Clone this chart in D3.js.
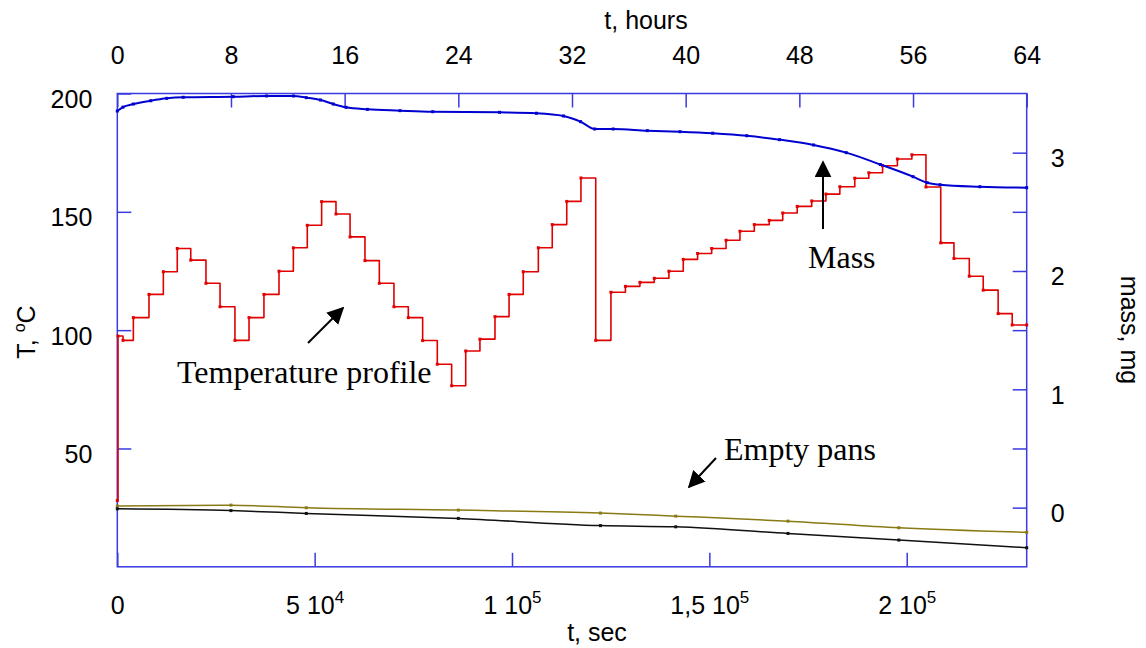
<!DOCTYPE html>
<html>
<head>
<meta charset="utf-8">
<script src="https://cdn.jsdelivr.net/npm/d3@7"></script>
<style>
	body { margin: 0; background: #fff; }
	svg { display: block; }
</style>
</head>
<body>
<script>
/* Data (time in hours, T in degC, mass in mg)
***********************************************************************/
var tempTimes = [0, 0.05, 0.4, 1.13, 2.23, 3.24, 4.22, 5.17, 6.24, 7.23, 8.28, 9.27, 10.32, 11.38, 12.39,
	13.37, 14.38, 15.39, 16.38, 17.43, 18.44, 19.47, 20.48, 21.49, 22.52, 23.53, 24.52, 25.52, 26.58,
	27.57, 28.57, 29.63, 30.61, 31.63, 32.63, 33.67, 34.74, 35.76, 36.78, 37.79, 38.82, 39.83, 40.84,
	41.83, 42.84, 43.82, 44.83, 45.88, 46.83, 47.85, 48.87, 49.87, 50.85, 51.9, 52.89, 53.86, 54.9,
	55.92, 56.91, 57.95, 58.88, 59.96, 60.94, 61.99, 62.98, 64];
var tempValues = [28, 97.5, 95.7, 105.3, 115.1, 124.7, 134.5, 129.6, 119.8, 109.9, 95.7, 105.3, 115.1, 124.9, 134.8,
	144.3, 154.3, 149.1, 139.4, 129.4, 119.8, 109.9, 105.3, 95.6, 85.6, 76.5, 91.2, 96.2, 105.7,
	115.1, 124.7, 134.8, 144.6, 154.4, 164.3, 95.7, 116, 118.5, 120.2, 121.9, 124.9, 129.9, 132.4,
	134.5, 138, 141.8, 144.6, 146.4, 149.5, 152.3, 154.6, 157.5, 160.6, 164.2, 166.5, 169.5, 172.3,
	174.1, 160.5, 136.9, 130.3, 122.8, 116.9, 107, 102.2, 102.2];

var massTimes = [0, 0.4, 1.13, 2.35, 3.48, 4.64, 8.16, 10.5, 12.4, 13.3, 14.3, 15.2, 16.1, 17.6, 19.9, 22.2,
	26.9, 29.5, 31.4, 32.6, 33.6, 34.9, 37.3, 39.6, 41.9, 44.3, 46.6, 49.0, 51.3, 53.7, 56.0, 57.0,
	57.9, 60.7, 64];
var massValues = [3.352, 3.385, 3.411, 3.439, 3.459, 3.468, 3.473, 3.479, 3.479, 3.465, 3.445, 3.411, 3.383,
	3.366, 3.355, 3.346, 3.341, 3.333, 3.31, 3.262, 3.2, 3.2, 3.186, 3.177, 3.164, 3.143, 3.11,
	3.065, 3.0, 2.9, 2.797, 2.746, 2.729, 2.712, 2.704];

var panTimes = [0, 8, 13.3, 24, 34, 39.3, 47.2, 55, 64];
var panOlive = [0.013, 0.021, -0.001, -0.021, -0.046, -0.072, -0.114, -0.170, -0.209];
var panBlack = [-0.010, -0.025, -0.049, -0.091, -0.152, -0.162, -0.218, -0.274, -0.339];

var hourTicks = [0, 8, 16, 24, 32, 40, 48, 56, 64];
var secTicks = [0, 5e4, 1e5, 1.5e5, 2e5];
var tempTicks = [50, 100, 150, 200];
var massTicks = [0, 0.5, 1, 1.5, 2, 2.5, 3];


/* Setup SVG
***********************************************************************/
var svgW = 1146;
var svgH = 648;
var plotL = 117.3, plotR = 1026.7, plotT = 93.5, plotB = 566.8;

var svg = d3.select("body").append("svg")
	.attr("width", svgW)
	.attr("height", svgH)
	.style("font-family", "Arial, 'Liberation Sans', sans-serif");

svg.append("rect").attr("width", svgW).attr("height", svgH).attr("fill", "#fff");

var xHours = d3.scaleLinear().domain([0, 64]).range([plotL, plotR]);
var xSec = d3.scaleLinear().domain([0, 64 * 3600]).range([plotL, plotR]);
var yTemp = d3.scaleLinear().domain([0, 200]).range([plotB, plotT]);
var yMass = d3.scaleLinear().domain([-0.5, 3.5]).range([plotB, plotT]);

var axisCol = "#3a3ae0";
var fontsize = 25;


/* Axes
***********************************************************************/
function styleAxis(g) {
	g.select(".domain").remove();
	g.selectAll(".tick line").attr("stroke", axisCol).attr("stroke-width", 1.5);
	g.selectAll(".tick text").attr("fill", "#000").attr("font-size", fontsize);
}

var topAxis = svg.append("g")
	.attr("transform", "translate(0," + plotT + ")")
	.call(d3.axisTop(xHours).tickValues(hourTicks).tickSizeInner(-14).tickPadding(30).tickFormat(d3.format("d")))
	.call(styleAxis);

var bottomAxis = svg.append("g")
	.attr("transform", "translate(0," + plotB + ")")
	.call(d3.axisBottom(xSec).tickValues(secTicks).tickSizeInner(-14).tickPadding(29))
	.call(styleAxis);

// rewrite bottom labels as "m 10^e"
bottomAxis.selectAll(".tick text").each(function(d) {
	var t = d3.select(this).text("");
	if (d == 0) { t.text("0"); return; }
	var e = Math.floor(Math.log10(d));
	var m = String(d / Math.pow(10, e)).replace(".", ",");
	t.append("tspan").text(m + " 10");
	t.append("tspan").attr("font-size", 17).attr("dy", -11).text(e);
});

var leftAxis = svg.append("g")
	.attr("transform", "translate(" + plotL + ",0)")
	.call(d3.axisLeft(yTemp).tickValues(tempTicks).tickSizeInner(-14).tickPadding(25).tickFormat(d3.format("d")))
	.call(styleAxis);
leftAxis.selectAll(".tick text").attr("dy", "0.56em");

var rightAxis = svg.append("g")
	.attr("transform", "translate(" + plotR + ",0)")
	.call(d3.axisRight(yMass).tickValues(massTicks).tickSizeInner(-14).tickPadding(24)
		.tickFormat(function(d) { return d % 1 == 0 ? d : ""; }))
	.call(styleAxis);
rightAxis.selectAll(".tick text").attr("dy", "0.56em");

// frame
svg.append("rect")
	.attr("x", plotL).attr("y", plotT)
	.attr("width", plotR - plotL).attr("height", plotB - plotT)
	.attr("fill", "none")
	.attr("stroke", axisCol)
	.attr("stroke-width", 1.5);

// axis titles
svg.append("text").attr("x", 646).attr("y", 29).attr("text-anchor", "middle")
	.attr("font-size", fontsize).text("t, hours");
svg.append("text").attr("x", 597).attr("y", 641).attr("text-anchor", "middle")
	.attr("font-size", fontsize).text("t, sec");

var tLabel = svg.append("text")
	.attr("transform", "translate(35,332) rotate(-90)")
	.attr("text-anchor", "middle")
	.attr("font-size", fontsize);
tLabel.append("tspan").text("T, ");
tLabel.append("tspan").attr("font-size", 16).attr("dy", -10).text("o");
tLabel.append("tspan").attr("dy", 10).text("C");

svg.append("text")
	.attr("transform", "translate(1121,330) rotate(90)")
	.attr("text-anchor", "middle")
	.attr("font-size", fontsize)
	.text("mass, mg");


/* Lines
***********************************************************************/
function zipData(xs, ys) {
	return xs.map(function(x, i) { return {x: x, y: ys[i]}; });
}

function drawSeries(data, yScale, color, width, curve) {
	var line = d3.line()
		.x(function(d) { return xHours(d.x); })
		.y(function(d) { return yScale(d.y); })
		.curve(curve);
	svg.append("path")
		.attr("d", line(data))
		.attr("fill", "none")
		.attr("stroke", color)
		.attr("stroke-width", width)
		.attr("stroke-linejoin", "round");
	svg.append("g").selectAll("rect")
		.data(data)
		.enter().append("rect")
		.attr("x", function(d) { return xHours(d.x) - 1.5; })
		.attr("y", function(d) { return yScale(d.y) - 1.5; })
		.attr("width", 3)
		.attr("height", 3)
		.attr("fill", color);
}

drawSeries(zipData(panTimes, panOlive), yMass, "#8a7a14", 1.5, d3.curveMonotoneX);
drawSeries(zipData(panTimes, panBlack), yMass, "#111", 1.5, d3.curveMonotoneX);
drawSeries(zipData(tempTimes, tempValues), yTemp, "#e00000", 1.6, d3.curveStepAfter);
drawSeries(zipData(massTimes, massValues), yMass, "#0000d0", 2, d3.curveMonotoneX);


/* Annotations
***********************************************************************/
svg.append("defs").append("marker")
	.attr("id", "head")
	.attr("viewBox", "0 0 10 10")
	.attr("refX", 9).attr("refY", 5)
	.attr("markerWidth", 17).attr("markerHeight", 17)
	.attr("markerUnits", "userSpaceOnUse")
	.attr("orient", "auto")
	.append("path").attr("d", "M0,0 L10,5 L0,10 Z").attr("fill", "#000");

function arrow(x1, y1, x2, y2) {
	svg.append("line")
		.attr("x1", x1).attr("y1", y1).attr("x2", x2).attr("y2", y2)
		.attr("stroke", "#000").attr("stroke-width", 2)
		.attr("marker-end", "url(#head)");
}

function note(x, y, txt) {
	svg.append("text")
		.attr("x", x).attr("y", y)
		.attr("font-family", "'Times New Roman', 'Liberation Serif', serif")
		.attr("font-size", 32)
		.text(txt);
}

arrow(308, 343, 343, 308);
note(177, 383, "Temperature profile");

arrow(823, 229, 823, 162);
note(808, 268, "Mass");

arrow(716, 458, 689, 487);
note(724, 460, "Empty pans");
</script>
</body>
</html>
